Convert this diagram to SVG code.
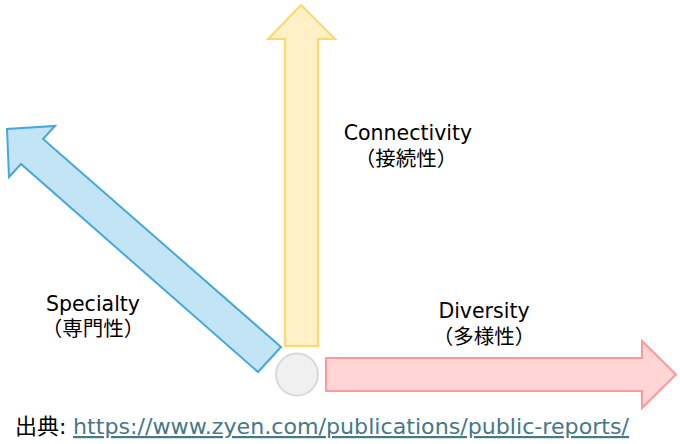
<svg xmlns="http://www.w3.org/2000/svg" width="680" height="444" viewBox="0 0 680 444">
<style>
.lbl{font-family:"DejaVu Sans","Noto Sans CJK JP",sans-serif;font-size:20.5px;fill:#000;text-anchor:middle}
.src{font-family:"DejaVu Sans","Noto Sans CJK JP",sans-serif;font-size:22px}
.arr{stroke-width:2;stroke-linejoin:miter}
</style>
<rect width="680" height="444" fill="#fff"/>
<g id="connectors">
<polygon id="connectivity-arrow" class="arr" fill="#fff0c8" stroke="#ffd966" points="285,346 285,39 268,39 301,5 335,39 318,39 318,346"/>
<polygon id="specialty-arrow" class="arr" fill="#c3e4f5" stroke="#45a8dd" points="281,347 43,139 55,126 7,129 9,177 21,164 258,372"/>
<polygon id="diversity-arrow" class="arr" fill="#ffd5d5" stroke="#ff9a9a" points="326,358 642,358 642,341 676,374.5 642,408 642,391 326,391"/>
</g>
<g id="origin">
<circle cx="297" cy="374.5" r="21" fill="#f0f0f0" stroke="#d9d9d9" stroke-width="2"/>
</g>
<g id="connectivity">
<text class="lbl" x="408" y="140">Connectivity</text>
<text class="lbl" x="406" y="166">（接続性）</text>
</g>
<g id="specialty">
<text class="lbl" x="93" y="311">Specialty</text>
<text class="lbl" x="93" y="336">（専門性）</text>
</g>
<g id="diversity">
<text class="lbl" x="484" y="318">Diversity</text>
<text class="lbl" x="484" y="344">（多様性）</text>
</g>
<g id="source">
<text class="src" x="15" y="434" fill="#000">出典:</text>
<text class="src" x="73" y="434" fill="#467886" text-decoration="underline" textLength="556" lengthAdjust="spacingAndGlyphs">https://www.zyen.com/publications/public-reports/</text>
</g>
</svg>
